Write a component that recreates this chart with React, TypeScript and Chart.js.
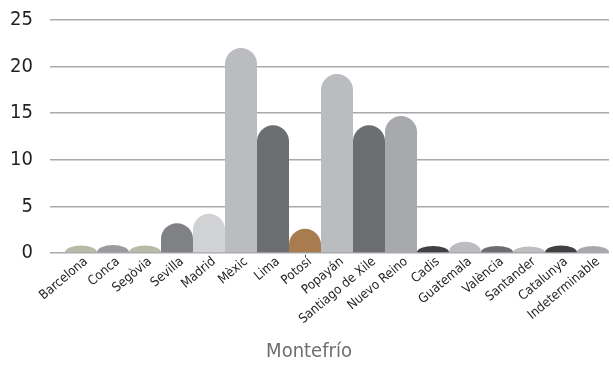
import React, { useEffect, useRef } from "react";
import { Chart, registerables } from "chart.js";

Chart.register(...registerables);

const categories = [
  "Barcelona",
  "Conca",
  "Segòvia",
  "Sevilla",
  "Madrid",
  "Mèxic",
  "Lima",
  "Potosí",
  "Popayán",
  "Santiago de Xile",
  "Nuevo Reino",
  "Cadis",
  "Guatemala",
  "València",
  "Santander",
  "Catalunya",
  "Indeterminable",
];

const values = [0.8, 0.85, 0.8, 3.2, 4.2, 22, 13.7, 2.6, 19.2, 13.7, 14.7, 0.75, 1.2, 0.75, 0.7, 0.8, 0.75];

const yTicks = [0, 5, 10, 15, 20, 25];

const barColors = [
  "#b9bba9",
  "#9a9a9e",
  "#b9bba9",
  "#808184",
  "#d1d2d4",
  "#bbbcc0",
  "#6d6e71",
  "#a97c50",
  "#bbbcc0",
  "#6d6e71",
  "#a7a9ac",
  "#414042",
  "#bbbcbf",
  "#6d6e71",
  "#bcbec0",
  "#414042",
  "#a7a9ac",
];

const FONT = "'DejaVu Sans Condensed', 'Liberation Sans Narrow', sans-serif";

const roundTops = {
  id: "roundTops",
  beforeDatasetsDraw(chart: any) {
    const ctx = chart.ctx;
    chart.data.datasets.forEach((ds: any, di: number) => {
      const meta = chart.getDatasetMeta(di);
      meta.data.forEach((el: any, i: number) => {
        const { x, y, base, width } = el.getProps(["x", "y", "base", "width"], true);
        const r = width / 2;
        const h = base - y;
        ctx.save();
        ctx.fillStyle = ds.backgroundColor[i];
        ctx.beginPath();
        if (h <= r) {
          ctx.ellipse(x, base, r, h, 0, Math.PI, 2 * Math.PI);
        } else {
          ctx.moveTo(x - r, base);
          ctx.lineTo(x - r, y + r);
          ctx.arc(x, y + r, r, Math.PI, 2 * Math.PI);
          ctx.lineTo(x + r, base);
        }
        ctx.closePath();
        ctx.fill();
        ctx.restore();
      });
    });
    return false;
  },
};

export default function App() {
  const ref = useRef<HTMLCanvasElement>(null);
  useEffect(() => {
    document.body.style.margin = "0";
    const chart = new Chart(ref.current!, {
      type: "bar",
      data: {
        labels: categories,
        datasets: [
          {
            data: values,
            backgroundColor: barColors,
            barPercentage: 1,
            categoryPercentage: 1,
          },
        ],
      },
      plugins: [roundTops],
      options: {
        animation: false,
        responsive: true,
        maintainAspectRatio: false,
        layout: { padding: { left: 9, right: 4, top: 20, bottom: 0 } },
        plugins: {
          legend: { display: false },
          tooltip: { enabled: false },
          title: {
            display: true,
            text: "Montefrío",
            position: "bottom",
            color: "#6d6e71",
            font: { family: FONT, size: 20, weight: "normal" },
            padding: { top: 8, bottom: 4 },
          },
        },
        scales: {
          x: {
            grid: { display: false, drawTicks: false },
            border: { display: false },
            ticks: {
              color: "#231f20",
              font: { family: FONT, size: 13 },
              maxRotation: 40,
              minRotation: 40,
              padding: 1,
              labelOffset: 5,
              autoSkip: false,
            },
            afterFit(scale: any) {
              scale.height = 79;
            },
          },
          y: {
            min: 0,
            max: 25,
            afterBuildTicks(scale: any) {
              scale.ticks = yTicks.map((v) => ({ value: v }));
            },
            grid: {
              color: "#a7a9ac",
              lineWidth: 1.5,
              drawTicks: true,
              tickLength: 15,
            },
            border: { display: false },
            ticks: {
              color: "#231f20",
              font: { family: FONT, size: 20 },
              padding: 17,
            },
            afterFit(scale: any) {
              scale.width = 56;
              scale.paddingTop = 0;
              scale.paddingBottom = 0;
            },
          },
        },
      },
    });
    return () => chart.destroy();
  }, []);
  return (
    <div style={{ position: "absolute", left: 0, top: 0, width: 613, height: 368 }}>
      <canvas ref={ref} />
    </div>
  );
}
